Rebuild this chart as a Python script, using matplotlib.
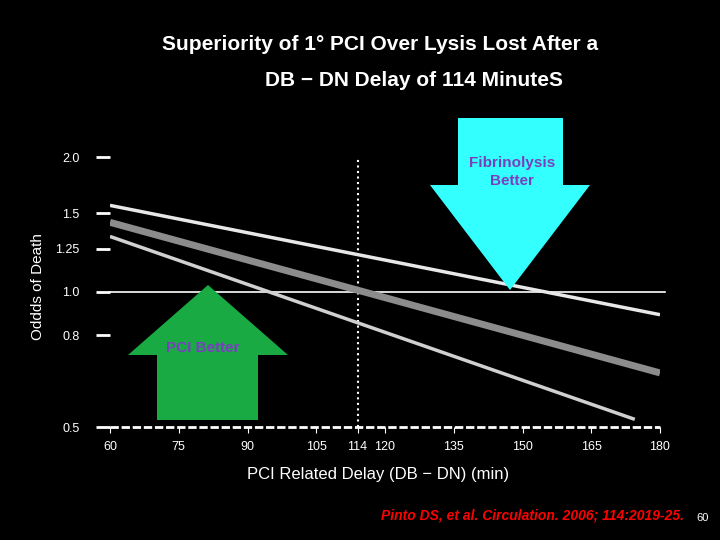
import matplotlib
matplotlib.use("Agg")
import matplotlib.pyplot as plt
from matplotlib.patches import Polygon
import numpy as np

plt.rcParams['font.family'] = ['Liberation Sans', 'DejaVu Sans']

x_ticks = [60, 75, 90, 105, 114, 120, 135, 150, 165, 180]
x_tick_labels = ["60", "75", "90", "105", "114", "120", "135", "150", "165", "180"]
y_ticks = [0.5, 0.8, 1.0, 1.25, 1.5, 2.0]
y_tick_labels = ["0.5", "0.8", "1.0", "1.25", "1.5", "2.0"]
line_white_x = [60, 180]; line_white_y = [1.56, 0.89]
line_gray_x = [60, 180]; line_gray_y = [1.43, 0.66]
line_light_x = [60, 174.5]; line_light_y = [1.33, 0.52]

W, H = 720, 540
fig = plt.figure(figsize=(W/100, H/100), dpi=100, facecolor="black")
def fx(px): return px / W
def fy(py): return 1 - py / H

ax = fig.add_axes([fx(110), fy(427), fx(660) - fx(110), fy(157) - fy(427)])
ax.set_facecolor("black")
ax.set_yscale("log")
ax.set_xlim(60, 180)
ax.set_ylim(0.5, 2.0)
for s in ax.spines.values():
    s.set_visible(False)
ax.set_xticks(x_ticks)
ax.set_xticklabels(x_tick_labels, color="white", fontsize=9)
ax.set_yticks(y_ticks)
ax.set_yticklabels(y_tick_labels, color="white", fontsize=9)
ax.yaxis.set_minor_locator(matplotlib.ticker.NullLocator())
ax.tick_params(axis="y", length=10, width=2, color="white", pad=12)
ax.tick_params(axis="x", length=4, color="white", pad=6)

ax.plot([60, 181], [1.0, 1.0], color="white", lw=1.2, clip_on=False)
ax.plot([114, 114], [0.5, 2.0], color="white", lw=1.5, ls=":")
ax.plot([60, 180], [0.5, 0.5], color="white", lw=2, ls=(0, (3, 1)), clip_on=False)
ax.plot(line_white_x, line_white_y, color="#e8e8e8", lw=2.5, solid_capstyle="butt")
ax.plot(line_gray_x, line_gray_y, color="#8c8c8c", lw=5, solid_capstyle="butt")
ax.plot(line_light_x, line_light_y, color="#d0d0d0", lw=2.5, solid_capstyle="butt")

cyan = [(458, 118), (563, 118), (563, 185), (590, 185), (510, 290), (430, 185), (458, 185)]
green = [(208, 285), (288, 355), (258, 355), (258, 420), (157, 420), (157, 355), (128, 355)]
for pts, col in [(cyan, "#33ffff"), (green, "#1aaa44")]:
    fig.patches.append(Polygon([(fx(a), fy(b)) for a, b in pts], closed=True,
                               transform=fig.transFigure, facecolor=col, edgecolor="none", zorder=0))

fig.text(fx(512), fy(172), "Fibrinolysis\nBetter", color="#7a3fbf", fontsize=11,
         fontweight="bold", ha="center", va="center", linespacing=1.3)
fig.text(fx(203), fy(348), "PCI Better", color="#7a3fbf", fontsize=11,
         fontweight="bold", ha="center", va="center")

fig.text(fx(380), fy(44), "Superiority of 1° PCI Over Lysis Lost After a", color="white",
         fontsize=15, fontweight="bold", ha="center", va="center")
fig.text(fx(414), fy(80), "DB − DN Delay of 114 MinuteS", color="white",
         fontsize=15, fontweight="bold", ha="center", va="center")
fig.text(fx(38), fy(287), "Oddds of Death", color="white", fontsize=11, rotation=90,
         ha="center", va="center")
fig.text(fx(378), fy(474), "PCI Related Delay (DB − DN) (min)", color="white", fontsize=12,
         ha="center", va="center")
fig.text(fx(684), fy(516), "Pinto DS, et al. Circulation. 2006; 114:2019-25.", color="red",
         fontsize=10, fontweight="bold", fontstyle="italic", ha="right", va="center")
fig.text(fx(703), fy(518), "60", color="white", fontsize=8, ha="center", va="center")

fig.savefig("out.png", dpi=100, facecolor="black")
